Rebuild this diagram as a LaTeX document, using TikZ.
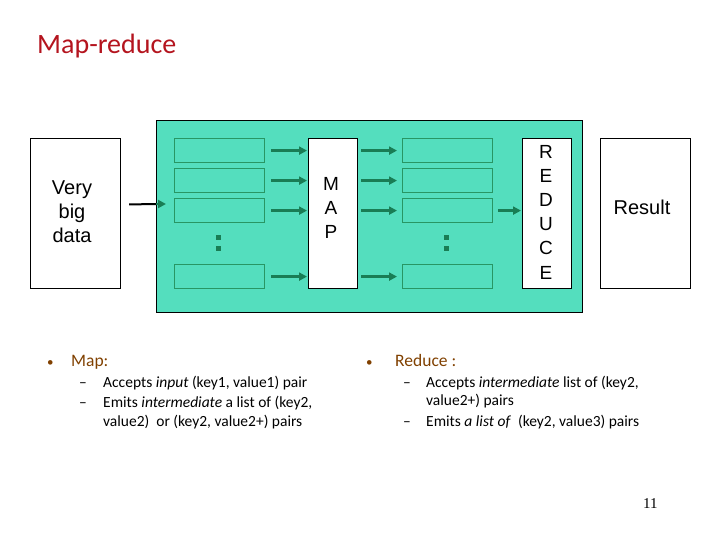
\documentclass[tikz,border=0pt]{standalone}
\usepackage{fontspec}
\setmainfont{Carlito}
\newfontfamily\arialf{Liberation Sans}
\newfontfamily\numf{Liberation Serif}
\usetikzlibrary{arrows.meta,calc}
\definecolor{teal1}{RGB}{84,222,190}
\definecolor{rectline}{RGB}{40,150,100}
\definecolor{arrgreen}{RGB}{25,125,85}
\definecolor{titlered}{RGB}{180,20,30}
\definecolor{brown1}{RGB}{128,64,0}
\begin{document}
\begin{tikzpicture}[x=1pt,y=-1pt,
  box/.style={draw=black,fill=white,line width=1.2pt,anchor=north west,inner sep=0pt},
  slot/.style={draw=rectline,line width=1.2pt,anchor=north west,minimum width=90pt,minimum height=24pt,inner sep=0pt},
  garr/.style={draw=arrgreen,line width=2.3pt,-{Triangle[length=8pt,width=8pt]}},
  dotm/.style={fill=arrgreen,minimum size=5pt,inner sep=0pt},
  bigtxt/.style={font=\arialf\fontsize{20}{24}\selectfont,align=center},
  btxt/.style={anchor=base west,inner sep=0pt,font=\fontsize{15.5}{18}\selectfont},
  dashmark/.style={anchor=base west,inner sep=0pt,font=\fontsize{15.5}{18}\selectfont},
  head/.style={anchor=base west,inner sep=0pt,text=brown1,font=\fontsize{17.5}{20}\selectfont},
  bul/.style={anchor=base west,inner sep=0pt,text=brown1,font=\fontsize{13}{15}\selectfont},
]
\useasboundingbox (0,0) rectangle (720,540);
\node[anchor=base west,inner sep=0pt,text=titlered,font=\fontsize{28}{32}\selectfont] (title) at (37,54) {Map-reduce};
% teal container
\node[draw=black,fill=teal1,line width=1.2pt,anchor=north west,minimum width=426pt,minimum height=192pt,inner sep=0pt] (teal) at (156,120) {};
% data box
\node[box,minimum width=90pt,minimum height=150pt] (data) at (30,138) {};
\node[bigtxt] (datat) at (72,212) {Very\\big\\data};
% result box
\node[box,minimum width=90pt,minimum height=150pt] (res) at (600,138) {};
\node[bigtxt] (rest) at (642,207) {Result};
% map & reduce
\node[box,minimum width=49pt,minimum height=150pt] (map) at (308,138) {};
\node[bigtxt,font=\arialf\fontsize{19}{24}\selectfont] (mapt) at (331,208) {M\\A\\P};
\node[box,minimum width=49pt,minimum height=150pt] (red) at (522,138) {};
\node[bigtxt,font=\arialf\fontsize{19}{24.2}\selectfont] (redt) at (546,212) {R\\E\\D\\U\\C\\E};
% slots
\foreach \i/\y in {1/138,2/168,3/198,4/264}{
  \node[slot] (l\i) at (174,\y) {};
  \node[slot] (r\i) at (402,\y) {};
  \draw[garr,shorten <=6pt,shorten >=1pt] (l\i.east) -- (l\i.east -| map.west);
  \draw[garr,shorten <=3pt,shorten >=5pt] (map.east |- r\i.west) -- (r\i.west);
}
\draw[garr,shorten <=5pt,shorten >=1pt] (r3.east) -- (r3.east -| red.west);
% dots
\node[dotm] (ld1) at (218,237) {};
\node[dotm] (ld2) at (218,248) {};
\node[dotm] (rd1) at (446,237) {};
\node[dotm] (rd2) at (446,248) {};
% input arrow
\coordinate (inend) at (166,204);
\draw[black,line width=2pt,shorten <=8pt] ([yshift=9pt]data.east) -- (teal.west |- inend);
\draw[garr] (teal.west |- inend) -- (inend);
% bullets
\node[bul] (b1) at (47,366) {•};
\node[head] (map1) at (71,366) {Map:};
\node[dashmark] (m1d) at (79,387) {–};
\node[btxt] (m1x) at (103,387) {Accepts \textit{input} (key1, value1) pair};
\node[dashmark] (m2d) at (79,407) {–};
\node[btxt] (m2x) at (103,407) {Emits \textit{intermediate} a list of (key2,};
\node[btxt] (m3x) at (103,426) {value2)\ \ or (key2, value2+) pairs};
\node[bul] (b2) at (366,366) {•};
\node[head] (redl) at (395,366) {Reduce :};
\node[dashmark] (r1d) at (403,387) {–};
\node[btxt] (r1x) at (426,387) {Accepts \textit{intermediate} list of (key2,};
\node[btxt] (r2x) at (426,405) {value2+) pairs};
\node[dashmark] (r3d) at (403,426) {–};
\node[btxt] (r3x) at (426,426) {Emits \textit{a list of}\ \ (key2, value3) pairs};
\node[anchor=base west,inner sep=0pt,font=\numf\fontsize{15}{17}\selectfont] (pg) at (643,508) {11};
\end{tikzpicture}
\end{document}
